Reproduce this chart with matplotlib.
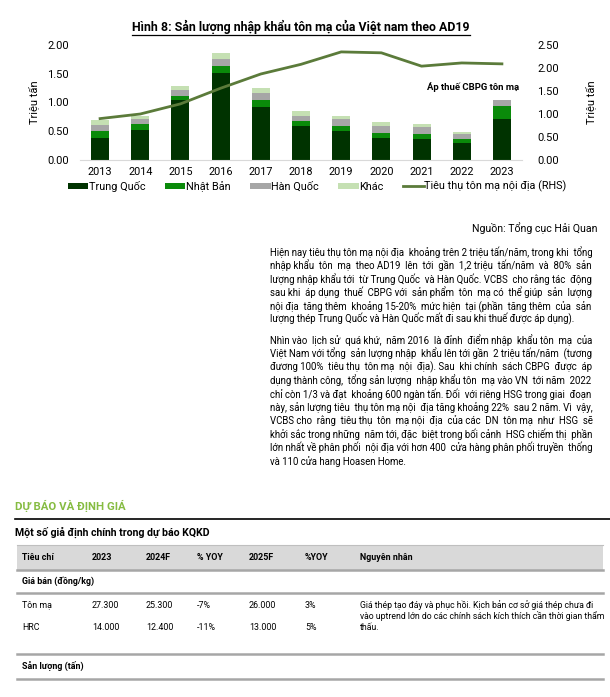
import numpy as np
import matplotlib
matplotlib.use("Agg")
import matplotlib.pyplot as plt
from matplotlib.patches import Patch, Rectangle
from matplotlib.lines import Line2D
from matplotlib.ticker import FormatStrFormatter

# one family with full Vietnamese coverage, so no glyph falls back to another font
plt.rcParams["font.family"] = ["Roboto"]

# chart data (million tonnes)
years = ["2013", "2014", "2015", "2016", "2017", "2018", "2019", "2020", "2021", "2022", "2023"]
trung_quoc = [0.39, 0.52, 1.05, 1.52, 0.93, 0.59, 0.51, 0.39, 0.37, 0.30, 0.71]
nhat_ban = [0.12, 0.11, 0.07, 0.11, 0.11, 0.09, 0.09, 0.08, 0.08, 0.07, 0.23]
han_quoc = [0.10, 0.08, 0.10, 0.13, 0.13, 0.09, 0.11, 0.13, 0.13, 0.09, 0.10]
khac = [0.08, 0.06, 0.07, 0.10, 0.09, 0.09, 0.06, 0.06, 0.04, 0.03, 0.01]
tieu_thu = [0.90, 1.00, 1.22, 1.56, 1.87, 2.08, 2.35, 2.33, 2.04, 2.11, 2.09]
series_names = ["Trung Quốc", "Nhật Bản", "Hàn Quốc", "Khác"]
line_name = "Tiêu thụ tôn mạ nội địa (RHS)"

title = "Hình 8: Sản lượng nhập khẩu tôn mạ của Việt nam theo AD19"
source = "Nguồn: Tổng cục Hải Quan"
note = "Áp thuế CBPG tôn mạ"

para1 = [
    "Hiện nay tiêu thụ tôn mạ nội địa khoảng trên 2 triệu tấn/năm, trong khi tổng",
    "nhập khẩu tôn mạ theo AD19 lên tới gần 1,2 triệu tấn/năm và 80% sản",
    "lượng nhập khẩu tới từ Trung Quốc và Hàn Quốc. VCBS cho rằng tác động",
    "sau khi áp dụng thuế CBPG với sản phẩm tôn mạ có thể giúp sản lượng",
    "nội địa tăng thêm khoảng 15-20% mức hiện tại (phần tăng thêm của sản",
    "lượng thép Trung Quốc và Hàn Quốc mất đi sau khi thuế được áp dụng).",
]
para2 = [
    "Nhìn vào lịch sử quá khứ, năm 2016 là đỉnh điểm nhập khẩu tôn mạ của",
    "Việt Nam với tổng sản lượng nhập khẩu lên tới gần 2 triệu tấn/năm (tương",
    "đương 100% tiêu thụ tôn mạ nội địa). Sau khi chính sách CBPG được áp",
    "dụng thành công, tổng sản lượng nhập khẩu tôn mạ vào VN tới năm 2022",
    "chỉ còn 1/3 và đạt khoảng 600 ngàn tấn. Đối với riêng HSG trong giai đoạn",
    "này, sản lượng tiêu thụ tôn mạ nội địa tăng khoảng 22% sau 2 năm. Vì vậy,",
    "VCBS cho rằng tiêu thụ tôn mạ nội địa của các DN tôn mạ như HSG sẽ",
    "khởi sắc trong những năm tới, đặc biệt trong bối cảnh HSG chiếm thị phần",
    "lớn nhất về phân phối nội địa với hơn 400 cửa hàng phân phối truyền thống",
    "và 110 cửa hang Hoasen Home.",
]

# table data
section_title = "DỰ BÁO VÀ ĐỊNH GIÁ"
table_title = "Một số giả định chính trong dự báo KQKD"
headers = ["Tiêu chí", "2023", "2024F", "% YOY", "2025F", "%YOY", "Nguyên nhân"]
group_price = "Giá bán (đồng/kg)"
row_ton_ma = ["Tôn mạ", "27.300", "25.300", "-7%", "26.000", "3%"]
row_hrc = ["HRC", "14.000", "12.400", "-11%", "13.000", "5%"]
reason = [
    "Giá thép tạo đáy và phục hồi. Kịch bản cơ sở giá thép chưa đi",
    "vào uptrend lớn do các chính sách kích thích cần thời gian thẩm",
    "thấu.",
]
group_volume = "Sản lượng (tấn)"

W, H = 610, 697
fig = plt.figure(figsize=(W / 100, H / 100), dpi=100)
fig.patch.set_facecolor("white")


def fx(px):
    return px / W


def fy(py):
    return 1 - py / H


# ---- chart ----
colors = ["#003300", "#0a8a0a", "#a6a6a6", "#c5e0b3"]
line_color = "#5b7b3a"

ax = fig.add_axes([fx(80), fy(160), fx(522) - fx(80), fy(45) - fy(160)])
x = np.arange(len(years))
bottom = np.zeros(len(years))
for vals, c, name in zip([trung_quoc, nhat_ban, han_quoc, khac], colors, series_names):
    ax.bar(x, vals, 0.45, bottom=bottom, color=c, label=name, zorder=2)
    bottom += np.array(vals)

ax.set_xlim(-0.5, len(years) - 0.5)
ax.set_ylim(0, 2.0)
ax.set_yticks(np.arange(0, 2.01, 0.5))
ax.yaxis.set_major_formatter(FormatStrFormatter("%.2f"))
ax.set_xticks(x)
ax.set_xticklabels(years)

ax2 = ax.twinx()
ax2.plot(x, tieu_thu, color=line_color, lw=2.0, zorder=3)
ax2.set_ylim(0, 2.5)
ax2.set_yticks(np.arange(0, 2.51, 0.5))
ax2.yaxis.set_major_formatter(FormatStrFormatter("%.2f"))

for a in (ax, ax2):
    for s in ("top", "left", "right"):
        a.spines[s].set_visible(False)
ax2.spines["bottom"].set_visible(False)
ax.spines["bottom"].set_color("#d9d9d9")
ax.tick_params(axis="y", length=0, labelsize=8, pad=8)
ax.tick_params(axis="x", length=0, labelsize=7.8, pad=5)
ax2.tick_params(axis="y", length=0, labelsize=8, pad=11)

ax.set_ylabel("Triệu tấn", fontsize=8)
ax.yaxis.set_label_coords((39 - 80) / 442, 0.5)
ax2.set_ylabel("Triệu tấn", fontsize=8, rotation=90)
ax2.yaxis.set_label_coords((585 - 80) / 442, 0.5)

handles = [Patch(facecolor=c, edgecolor="none") for c in colors]
handles.append(Line2D([0], [0], color=line_color, lw=2.0))
fig.legend(handles, series_names + [line_name], loc="center",
           bbox_to_anchor=(fx(317), fy(186.5)), ncol=5, frameon=False, fontsize=7.8,
           handlelength=1.9, handleheight=0.5, handletextpad=0.05, columnspacing=1.8)

t_title = fig.text(fx(301), fy(27), title, ha="center", va="center", fontsize=8.9, fontweight="bold")
fig.text(fx(519), fy(87), note, ha="right", va="center", fontsize=6.8, fontweight="bold")
fig.text(fx(597), fy(228), source, ha="right", va="center", fontsize=7.6)

renderer = fig.canvas.get_renderer()

# underline the title
bb = t_title.get_window_extent(renderer)
fig.add_artist(Line2D([bb.x0 / W, bb.x1 / W], [(bb.y0 - 0.5) / H] * 2, color="black", lw=0.9))


# ---- justified paragraphs (one text per line, padded with extra spaces) ----
def text_width(s, fs):
    t = fig.text(0, 0, s, fontsize=fs)
    w = t.get_window_extent(renderer).width
    t.remove()
    return w


x_left, x_right = 270, 592
widest = max(text_width(s, 10) for s in para1 + para2)
para_fs = min(8.4, 10 * (x_right - x_left - 2) / widest)
space_w = (text_width("a" + " " * 20 + "a", para_fs) - text_width("aa", para_fs)) / 20


def justify(line):
    words = line.split(" ")
    gaps = len(words) - 1
    extra = max(0, round((x_right - x_left - text_width(line, para_fs)) / space_w))
    out = words[0]
    for k, w in enumerate(words[1:]):
        n = 1 + (extra * (k + 1)) // gaps - (extra * k) // gaps
        out += " " * n + w
    return out


def draw_para(lines, y0, step):
    for i, line in enumerate(lines):
        s = line if i == len(lines) - 1 else justify(line)
        fig.text(fx(x_left), fy(y0 + i * step), s, fontsize=para_fs, va="center")


draw_para(para1, 252, 13.45)
draw_para(para2, 340, 13.45)

# ---- table section ----
fig.text(fx(15), fy(506), section_title, color="#86bc42", fontsize=8.2, fontweight="bold", va="center")
fig.add_artist(Line2D([fx(15), fx(610)], [fy(519)] * 2, color="black", lw=1.2))
fig.text(fx(15), fy(532), table_title, fontsize=7.6, fontweight="bold", va="center")

fig.add_artist(Rectangle((fx(17), fy(570)), fx(603) - fx(17), fy(545) - fy(570),
                         transform=fig.transFigure, facecolor="#d9d9d9", edgecolor="none"))
fig.add_artist(Line2D([fx(17), fx(603)], [fy(545)] * 2, color="#bfbfbf", lw=0.8))
for yy in (570, 593, 654, 679):
    fig.add_artist(Line2D([fx(17), fx(603)], [fy(yy)] * 2, color="#a6a6a6", lw=1.8))

col_x = [22, 92, 146, 197, 249, 305, 360]
tfs = 6.4
for cx, h in zip(col_x, headers):
    fig.text(fx(cx), fy(558), h, fontsize=tfs, fontweight="bold", va="center")
fig.text(fx(22), fy(581), group_price, fontsize=tfs, fontweight="bold", va="center")
for cx, v in zip(col_x, row_ton_ma):
    fig.text(fx(cx), fy(605), v, fontsize=tfs, va="center")
for cx, v in zip(col_x, row_hrc):
    fig.text(fx(cx), fy(628), v, fontsize=tfs, va="center")
for i, line in enumerate(reason):
    fig.text(fx(col_x[-1]), fy(605 + i * 11), line, fontsize=6.2, va="center")
fig.text(fx(22), fy(666), group_volume, fontsize=tfs, fontweight="bold", va="center")

fig.savefig("out.png", dpi=100, facecolor="white")
